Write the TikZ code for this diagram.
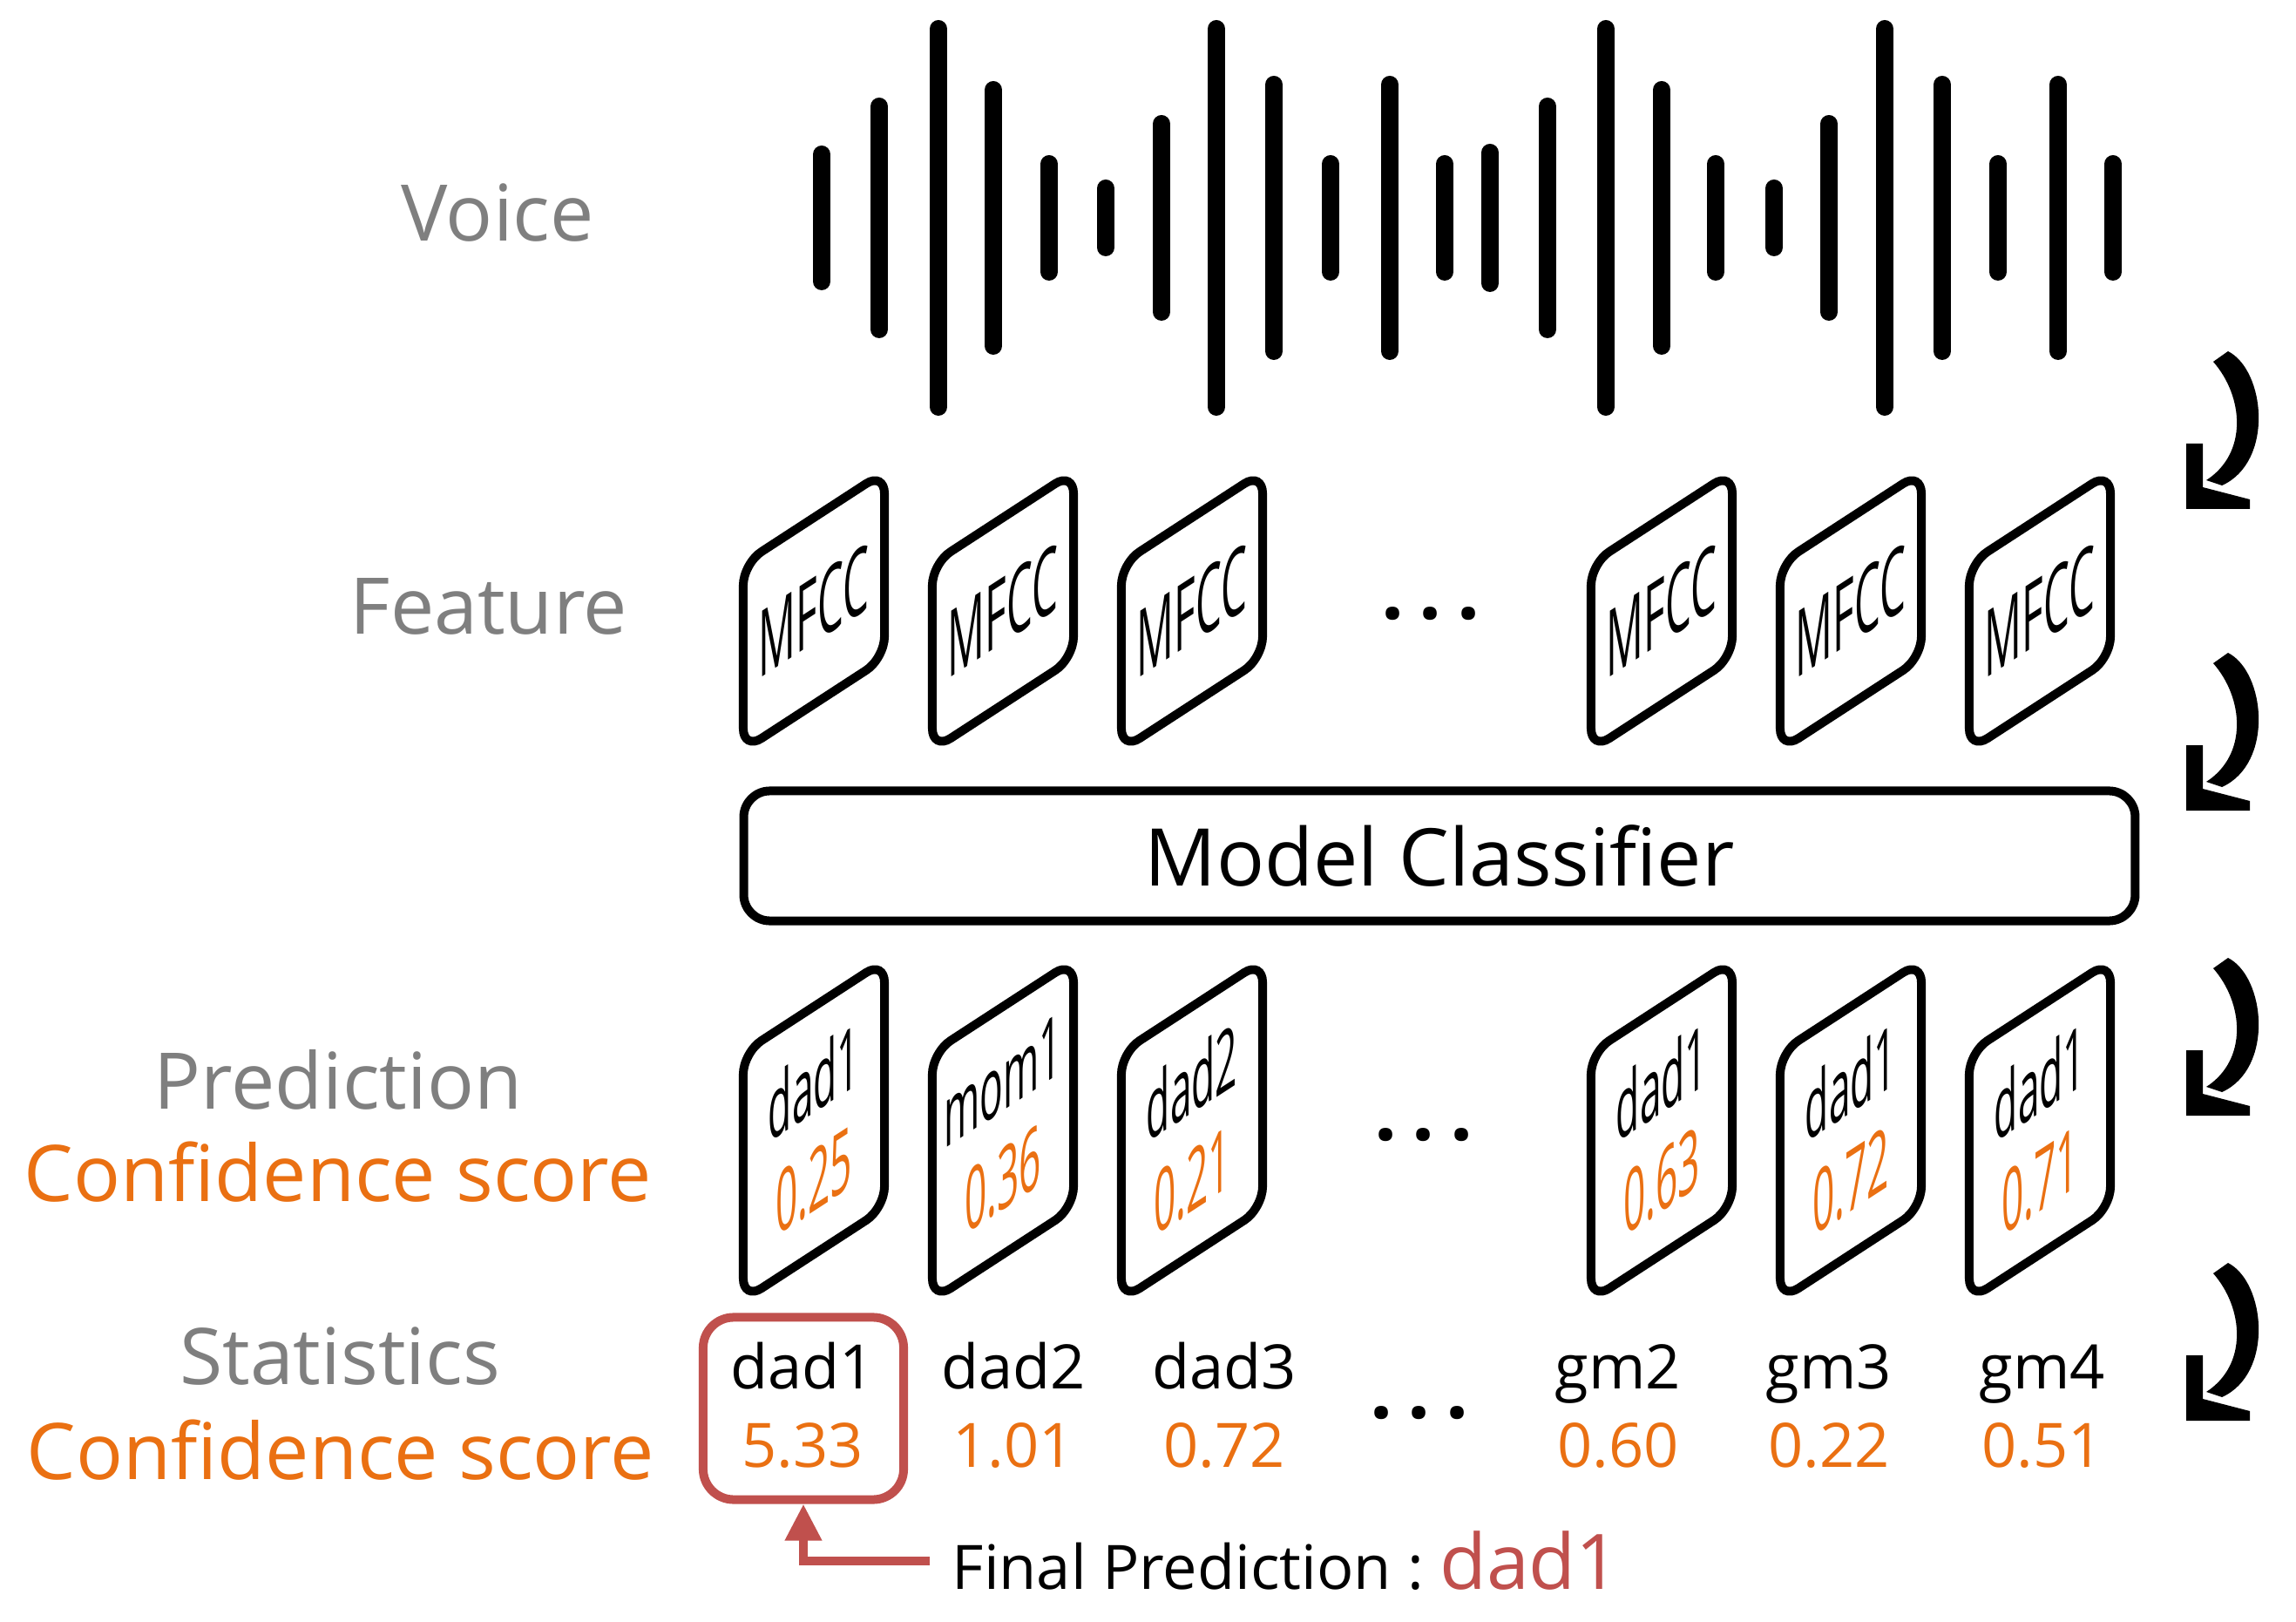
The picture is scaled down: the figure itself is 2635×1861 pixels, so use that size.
\documentclass[tikz,border=0pt]{standalone}
\usepackage{fontspec}
\setmainfont{Open Sans}
\usetikzlibrary{arrows.meta}
\definecolor{labelgray}{RGB}{127,127,127}
\definecolor{scoreorange}{RGB}{234,112,18}
\definecolor{finalred}{RGB}{192,80,77}
\newcommand{\squeeze}[1]{\scalebox{0.45}[1]{#1}}
\newcommand{\predtext}[2]{\squeeze{#1}\\\squeeze{\textcolor{scoreorange}{#2}}}
\newcommand{\threedots}{{\bfseries .\hspace{0.17cm}.\hspace{0.17cm}.}}

\begin{document}
\begin{tikzpicture}[x=0.01cm,y=-0.01cm,
    card/.style={draw,line width=0.1cm,rounded corners=0.25cm,yslant=0.65,
      minimum width=1.62cm,inner sep=0pt,align=center},
    mfcc/.style={card,minimum height=2.14cm,font=\fontsize{30}{32}\selectfont},
    pred/.style={card,minimum height=2.84cm,font=\fontsize{28}{32}\selectfont},
    rowlabel/.style={anchor=base,font=\fontsize{25.5}{30}\selectfont},
    stat/.style={anchor=base,font=\fontsize{20}{24}\selectfont},
    dots/.style={font=\fontsize{26}{30}\selectfont,inner sep=0pt}]
  \useasboundingbox (0,0) rectangle (2635,1861);

  \node[rowlabel,labelgray] (voice) at (571,277) {Voice};
  \node[rowlabel,labelgray] (feature) at (561,728) {Feature};
  \node[rowlabel,labelgray] (prediction) at (388,1272) {Prediction};
  \node[rowlabel,scoreorange] (conf1) at (388,1378) {Confidence score};
  \node[rowlabel,labelgray] (statistics) at (390,1588) {Statistics};
  \node[rowlabel,scoreorange] (conf2) at (391,1697) {Confidence score};

  % voice wave
  \foreach \x/\h in {943/83,1009/138,1077/227,1140/157,1204/72,1269/44,1333/118,
      1396/227,1462/163,1527/72,1595/163,1658/72,1710/85,1776/138,1843/227,
      1907/157,1969/72,2036/44,2099/118,2163/227,2229/163,2293/72,2362/163,2425/72}
    \draw[line width=0.2cm,line cap=round] (\x,260-\h) -- (\x,240+\h);

  \begin{scope}
    \node[mfcc] (f1) at (934,701) {\squeeze{MFCC}};
    \node[mfcc] (f2) at (1151,701) {\squeeze{MFCC}};
    \node[mfcc] (f3) at (1368,701) {\squeeze{MFCC}};
    \node[dots] (fdots) at (1642,704) {\threedots};
    \node[mfcc] (f4) at (1907,701) {\squeeze{MFCC}};
    \node[mfcc] (f5) at (2124,701) {\squeeze{MFCC}};
    \node[mfcc] (f6) at (2341,701) {\squeeze{MFCC}};
  \end{scope}

  \node[draw,line width=0.1cm,rounded corners=0.3cm,minimum width=15.96cm,
    minimum height=1.49cm,font=\fontsize{26}{30}\selectfont] (clf) at (1652,982) {Model Classifier};

  \begin{scope}
    \node[pred] (p1) at (934,1297) {\predtext{dad1}{0.25}};
    \node[pred] (p2) at (1151,1297) {\predtext{mom1}{0.36}};
    \node[pred] (p3) at (1368,1297) {\predtext{dad2}{0.21}};
    \node[dots] (pdots) at (1634,1302) {\threedots};
    \node[pred] (p4) at (1907,1297) {\predtext{dad1}{0.63}};
    \node[pred] (p5) at (2124,1297) {\predtext{dad1}{0.72}};
    \node[pred] (p6) at (2341,1297) {\predtext{dad1}{0.71}};
  \end{scope}

  \foreach \x/\name/\val [count=\i] in {921/dad1/5.33,1163/dad2/1.01,1405/dad3/0.72,
      1857/gm2/0.60,2099/gm3/0.22,2344/gm4/0.51} {
    \node[stat] (s\i) at (\x,1593) {\name};
    \node[stat,scoreorange] (v\i) at (\x,1683) {\val};
  }
  \node[dots] (sdots) at (1629,1621) {\threedots};

  \node[draw=finalred,line width=0.1cm,rounded corners=0.35cm,minimum width=2.3cm,
    minimum height=2.09cm] (topscore) at (922,1616) {};
  \node[anchor=west,inner sep=0pt,inner xsep=0.25cm,font=\fontsize{20}{24}\selectfont] (fp) at (1067,1791)
    {Final Prediction :~{\fontsize{25}{30}\selectfont\textcolor{finalred}{dad1}}};
  \draw[finalred,line width=0.1cm,-{Triangle[width=0.4cm,length=0.42cm]}] (fp.west) -| (topscore.south);

  % curved step arrows
  \foreach \t in {0,346,696,1046} {
    \begin{scope}[shift={(0,\t)}]
      \fill (2540,415) -- (2557,403) .. controls (2600,425) and (2610,530) .. (2550,557)
        -- (2532,551) .. controls (2580,520) and (2575,455) .. (2540,415) -- cycle;
      \fill (2509,509) -- (2528,509) -- (2528,559) -- (2582,573) -- (2582,584) -- (2509,584) -- cycle;
    \end{scope}
  }
\end{tikzpicture}
\end{document}
